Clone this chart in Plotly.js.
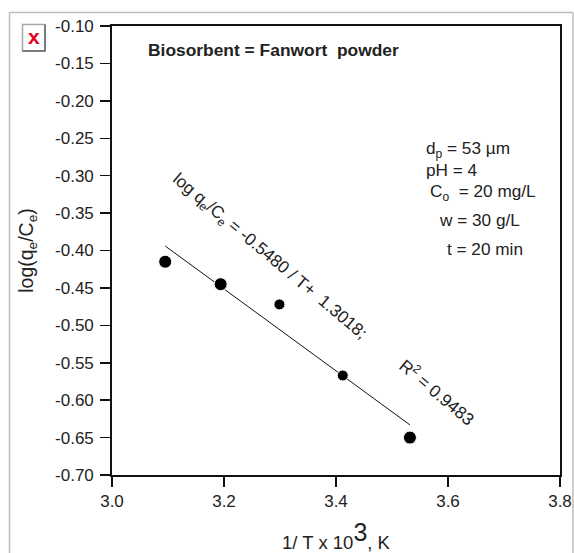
<!DOCTYPE html>
<html>
<head>
<meta charset="utf-8">
<script src="https://cdn.plot.ly/plotly-3.0.1.min.js"></script>
<style>html,body{margin:0;padding:0;background:#fff;overflow:hidden}</style>
</head>
<body>
<div id="chart" style="width:574px;height:553px"></div>
<script>
const pointX = [3.095, 3.194, 3.299, 3.412, 3.532];
const pointY = [-0.415, -0.445, -0.472, -0.567, -0.650];
const fitX = [3.095, 3.532];
const fitY = [-0.394, -0.633];
const xTicks = [3.0, 3.2, 3.4, 3.6, 3.8];
const yTicks = [-0.10,-0.15,-0.20,-0.25,-0.30,-0.35,-0.40,-0.45,-0.50,-0.55,-0.60,-0.65,-0.70];
const W = 574, H = 553, L = 112, R = 560, T = 25.5, B = 475;
const px = v => (v - L) / (R - L);
const py = v => (B - v) / (B - T);
const FONT = '"Liberation Sans", Arial, sans-serif';
const INK = '#222';
function note(x, y, text, size, extra) {
  return Object.assign({xref:'paper', yref:'paper', x:px(x), y:py(y), text:text, showarrow:false,
    xanchor:'left', yanchor:'middle', font:{family:FONT, size:size, color:INK}}, extra||{});
}
const annotations = [
  note(146, 50, '<b>Biosorbent = Fanwort  powder</b>', 17.4),
  note(424, 149, 'd<sub>p</sub> = 53 µm', 17.2),
  note(424, 170, 'pH = 4', 17.2),
  note(428, 192, 'C<sub>o</sub>  = 20 mg/L', 17.2),
  note(437, 220, 'w = 30 g/L', 17.2),
  note(445, 249, 't = 20 min', 17.2),
  note(269, 256, 'log q<sub>e</sub>/C<sub>e</sub> = -0.5480 / T+  1.3018;', 17.2, {xanchor:'center', textangle:40}),
  note(437, 391, 'R<sup>2</sup> = 0.9483', 17.2, {xanchor:'center', textangle:40}),
  note(33.5, 36, '<b>x</b>', 21, {xanchor:'center', font:{family:FONT, size:21, color:'#e8001c'}})
];
const frame = {xref:'paper', yref:'paper', layer:'below', type:'line', line:{color:'#bdbdbd', width:1.5}};
const shapes = [
  Object.assign({}, frame, {x0:px(9.5), x1:px(9.5), y0:py(12), y1:py(560)}),
  Object.assign({}, frame, {x0:px(9.5), x1:px(573), y0:py(12), y1:py(12)}),
  Object.assign({}, frame, {x0:px(573), x1:px(573), y0:py(12), y1:py(560)}),
  {type:'rect', xref:'paper', yref:'paper', x0:px(22.5), x1:px(45), y0:py(24), y1:py(50.5),
    line:{color:'#a8a8a8', width:1.5}, fillcolor:'#fff'},
  {type:'line', xref:'paper', yref:'paper', x0:px(45), x1:px(45), y0:py(24), y1:py(50.5), line:{color:'#666', width:1.5}},
  {type:'line', xref:'paper', yref:'paper', x0:px(22.5), x1:px(45), y0:py(50.5), y1:py(50.5), line:{color:'#666', width:1.5}}
];
Plotly.newPlot('chart', [
  {x:fitX, y:fitY, mode:'lines', line:{color:'#111', width:1}, hoverinfo:'skip'},
  {x:pointX, y:pointY, mode:'markers', marker:{color:'#000', opacity:1, size:[13,13,11,11,13], symbol:'circle'}}
], {
  width:W, height:H, showlegend:false,
  paper_bgcolor:'#fff', plot_bgcolor:'#fff',
  margin:{l:L, r:W-R, t:T, b:H-B, pad:0},
  font:{family:FONT, color:INK, size:17},
  xaxis:{range:[3.0,3.8], tickmode:'array', tickvals:xTicks, ticktext:xTicks.map(v=>v.toFixed(1)),
    ticks:'outside', ticklen:10, tickwidth:1.5, tickcolor:'#111', showline:true, linecolor:'#111', linewidth:1.8,
    mirror:true, showgrid:false, zeroline:false, tickfont:{size:17, family:FONT, color:INK},
    title:{text:'1/ T x 10<sup><span style="font-size:25px">3</span></sup>, K', font:{size:18.5, family:FONT, color:INK}, standoff:35}},
  yaxis:{range:[-0.70,-0.10], tickmode:'array', tickvals:yTicks, ticktext:yTicks.map(v=>v.toFixed(2)),
    ticks:'outside', ticklen:10, tickwidth:1.5, tickcolor:'#111', showline:true, linecolor:'#111', linewidth:1.8,
    mirror:true, showgrid:false, zeroline:false, ticklabelstandoff:3, tickfont:{size:17, family:FONT, color:INK},
    title:{text:'log(q<sub>e</sub>/C<sub>e</sub>)', font:{size:19.5, family:FONT, color:INK}, standoff:16}},
  annotations, shapes
}, {displayModeBar:false, staticPlot:true});
</script>
</body>
</html>
